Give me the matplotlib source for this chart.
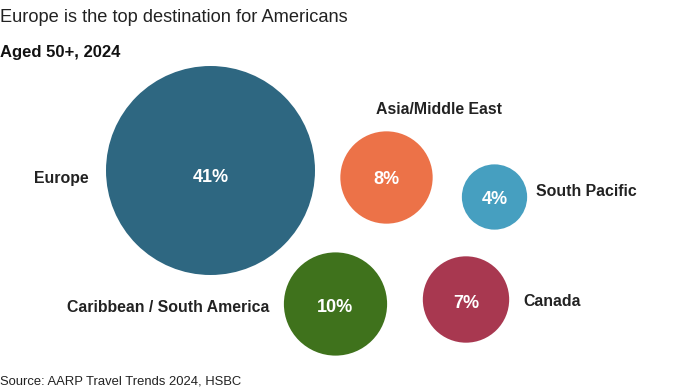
import numpy as np
import matplotlib.pyplot as plt
from matplotlib.patches import Circle

plt.rcParams['font.family'] = ['Liberation Sans', 'DejaVu Sans']

# dati
regioni = ['Europe', 'Asia/Middle East', 'South Pacific', 'Caribbean / South America', 'Canada']
quote = [41, 8, 4, 10, 7]
colori = ['#2E6781', '#EC7248', '#469FC0', '#3F721C', '#A83850']

# layout delle bolle (pixel)
centro_x = [210.5, 386.5, 494.5, 335.5, 466]
centro_y = [170.5, 177.5, 197, 304, 299.5]
testo_y = [178, 180, 200, 308, 303]
raggio_max = 104.5

# etichette: posizione e allineamento
etichetta_x = [89, 439, 536, 269, 523]
etichetta_y = [179, 109, 191, 308, 302]
allineamento = ['right', 'center', 'left', 'right', 'left']

fig = plt.figure(figsize=(6.96, 3.9), dpi=100)
ax = fig.add_axes([0, 0, 1, 1])
ax.set_xlim(0, 696)
ax.set_ylim(390, 0)
ax.set_aspect('equal')
ax.axis('off')

for i in range(len(regioni)):
    r = raggio_max * np.sqrt(quote[i] / max(quote))
    ax.add_patch(Circle((centro_x[i], centro_y[i]), r, color=colori[i], lw=0))
    ax.text(centro_x[i], testo_y[i], f'{quote[i]}%', color='white',
            fontsize=13, fontweight='bold', ha='center', va='center')
    ax.text(etichetta_x[i], etichetta_y[i], regioni[i], color='#222222',
            fontsize=11.45, fontweight='bold', ha=allineamento[i], va='center')

fig.text(0, 1 - 18/390, 'Europe is the top destination for Americans',
         fontsize=13.15, color='#222222', ha='left', va='center')
fig.text(0, 1 - 53/390, 'Aged 50+, 2024', fontsize=12, fontweight='bold',
         color='#111111', ha='left', va='center')
fig.text(0, 1 - 382/390, 'Source: AARP Travel Trends 2024, HSBC',
         fontsize=9.4, color='#222222', ha='left', va='center')

plt.savefig('out.png', dpi=100)
